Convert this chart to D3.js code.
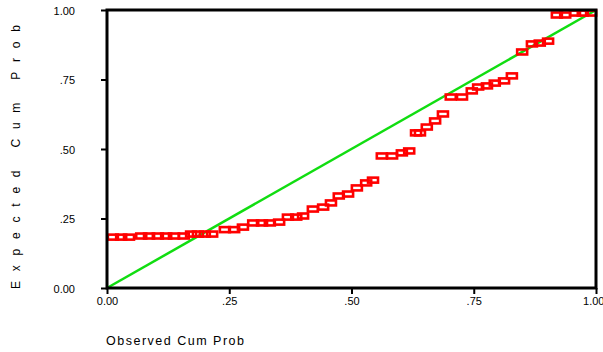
<!DOCTYPE html>
<html>
<head>
<meta charset="utf-8">
<script src="https://cdn.jsdelivr.net/npm/d3@7"></script>
<style>
  body { margin: 0; background: #fff; }
  svg { display: block; font-family: "Liberation Sans", Arial, sans-serif; }
</style>
</head>
<body>
<svg id="chart" width="603" height="352"></svg>
<script>
// observed cumulative probability / expected cumulative probability
const observed = [0.012, 0.029, 0.045, 0.070, 0.086, 0.104, 0.121, 0.137, 0.157,
  0.172, 0.186, 0.200, 0.215, 0.241, 0.260, 0.278, 0.299, 0.317, 0.333, 0.352,
  0.370, 0.387, 0.401, 0.421, 0.442, 0.458, 0.474, 0.493, 0.511, 0.530, 0.544,
  0.562, 0.583, 0.603, 0.618, 0.632, 0.640, 0.654, 0.671, 0.687, 0.703, 0.726,
  0.746, 0.759, 0.777, 0.793, 0.812, 0.828, 0.849, 0.869, 0.885, 0.902, 0.920,
  0.937, 0.957, 0.973, 0.990];
const expected = [0.183, 0.183, 0.183, 0.187, 0.187, 0.187, 0.187, 0.187, 0.187,
  0.194, 0.194, 0.194, 0.194, 0.210, 0.210, 0.219, 0.234, 0.234, 0.234, 0.237,
  0.255, 0.255, 0.259, 0.284, 0.291, 0.306, 0.331, 0.338, 0.360, 0.378, 0.388,
  0.475, 0.475, 0.486, 0.493, 0.558, 0.558, 0.579, 0.601, 0.626, 0.687, 0.687,
  0.709, 0.723, 0.727, 0.737, 0.745, 0.763, 0.849, 0.878, 0.881, 0.888, 0.982,
  0.982, 0.989, 0.989, 0.989];
const tickValues = [0, 0.25, 0.5, 0.75, 1];
const tickLabels = ["0.00", ".25", ".50", ".75", "1.00"];

const svg = d3.select("#chart");
const x = d3.scaleLinear().domain([0, 1]).range([107, 596]);
const y = d3.scaleLinear().domain([0, 1]).range([288, 10]);

// reference line
svg.append("line")
  .attr("x1", x(0)).attr("y1", y(0))
  .attr("x2", x(1)).attr("y2", y(1))
  .attr("stroke", "#11dd11")
  .attr("stroke-width", 2.5);

// markers
svg.append("g").selectAll("rect")
  .data(observed.map((d, i) => ({ o: d, e: expected[i] })))
  .enter().append("rect")
    .attr("x", d => x(d.o) - 5)
    .attr("y", d => y(d.e) - 2.5)
    .attr("width", 10)
    .attr("height", 5)
    .attr("fill", "none")
    .attr("stroke", "#ff0000")
    .attr("stroke-width", 2.6);

// frame
svg.append("rect")
  .attr("x", x(0)).attr("y", y(1))
  .attr("width", x(1) - x(0)).attr("height", y(0) - y(1))
  .attr("fill", "none")
  .attr("stroke", "#000")
  .attr("stroke-width", 3);

const xAxis = d3.axisBottom(x).tickValues(tickValues)
  .tickFormat((d, i) => tickLabels[i]).tickSizeInner(6).tickSizeOuter(0);
const yAxis = d3.axisLeft(y).tickValues(tickValues)
  .tickFormat((d, i) => tickLabels[i]).tickSizeInner(6).tickSizeOuter(0);

const gx = svg.append("g").attr("transform", `translate(0,${y(0)})`).call(xAxis);
const gy = svg.append("g").attr("transform", `translate(${x(0)},0)`).call(yAxis);

[gx, gy].forEach(g => {
  g.select(".domain").remove();
  g.selectAll(".tick line").attr("stroke", "#000").attr("stroke-width", 2);
  g.selectAll(".tick text")
    .attr("fill", "#000")
    .style("font-size", "11px")
    .style("font-family", "Liberation Sans, Arial, sans-serif");
});

gx.selectAll(".tick text")
  .attr("text-anchor", (d, i) => i === tickValues.length - 1 ? "end" : "middle")
  .attr("x", (d, i) => i === tickValues.length - 1 ? 8 : 0)
  .attr("y", 9)
  .attr("dy", "0.71em");

gy.selectAll(".tick text")
  .attr("x", -32)
  .attr("dy", "0.38em");

// axis titles
svg.append("text")
  .attr("x", 106).attr("y", 345)
  .attr("textLength", 138)
  .attr("lengthAdjust", "spacing")
  .style("font-size", "12.5px")
  .text("Observed Cum Prob");

svg.append("text")
  .attr("transform", "translate(20,289) rotate(-90)")
  .attr("textLength", 264)
  .attr("lengthAdjust", "spacing")
  .style("font-size", "12px")
  .text("Expected Cum Prob");
</script>
</body>
</html>
